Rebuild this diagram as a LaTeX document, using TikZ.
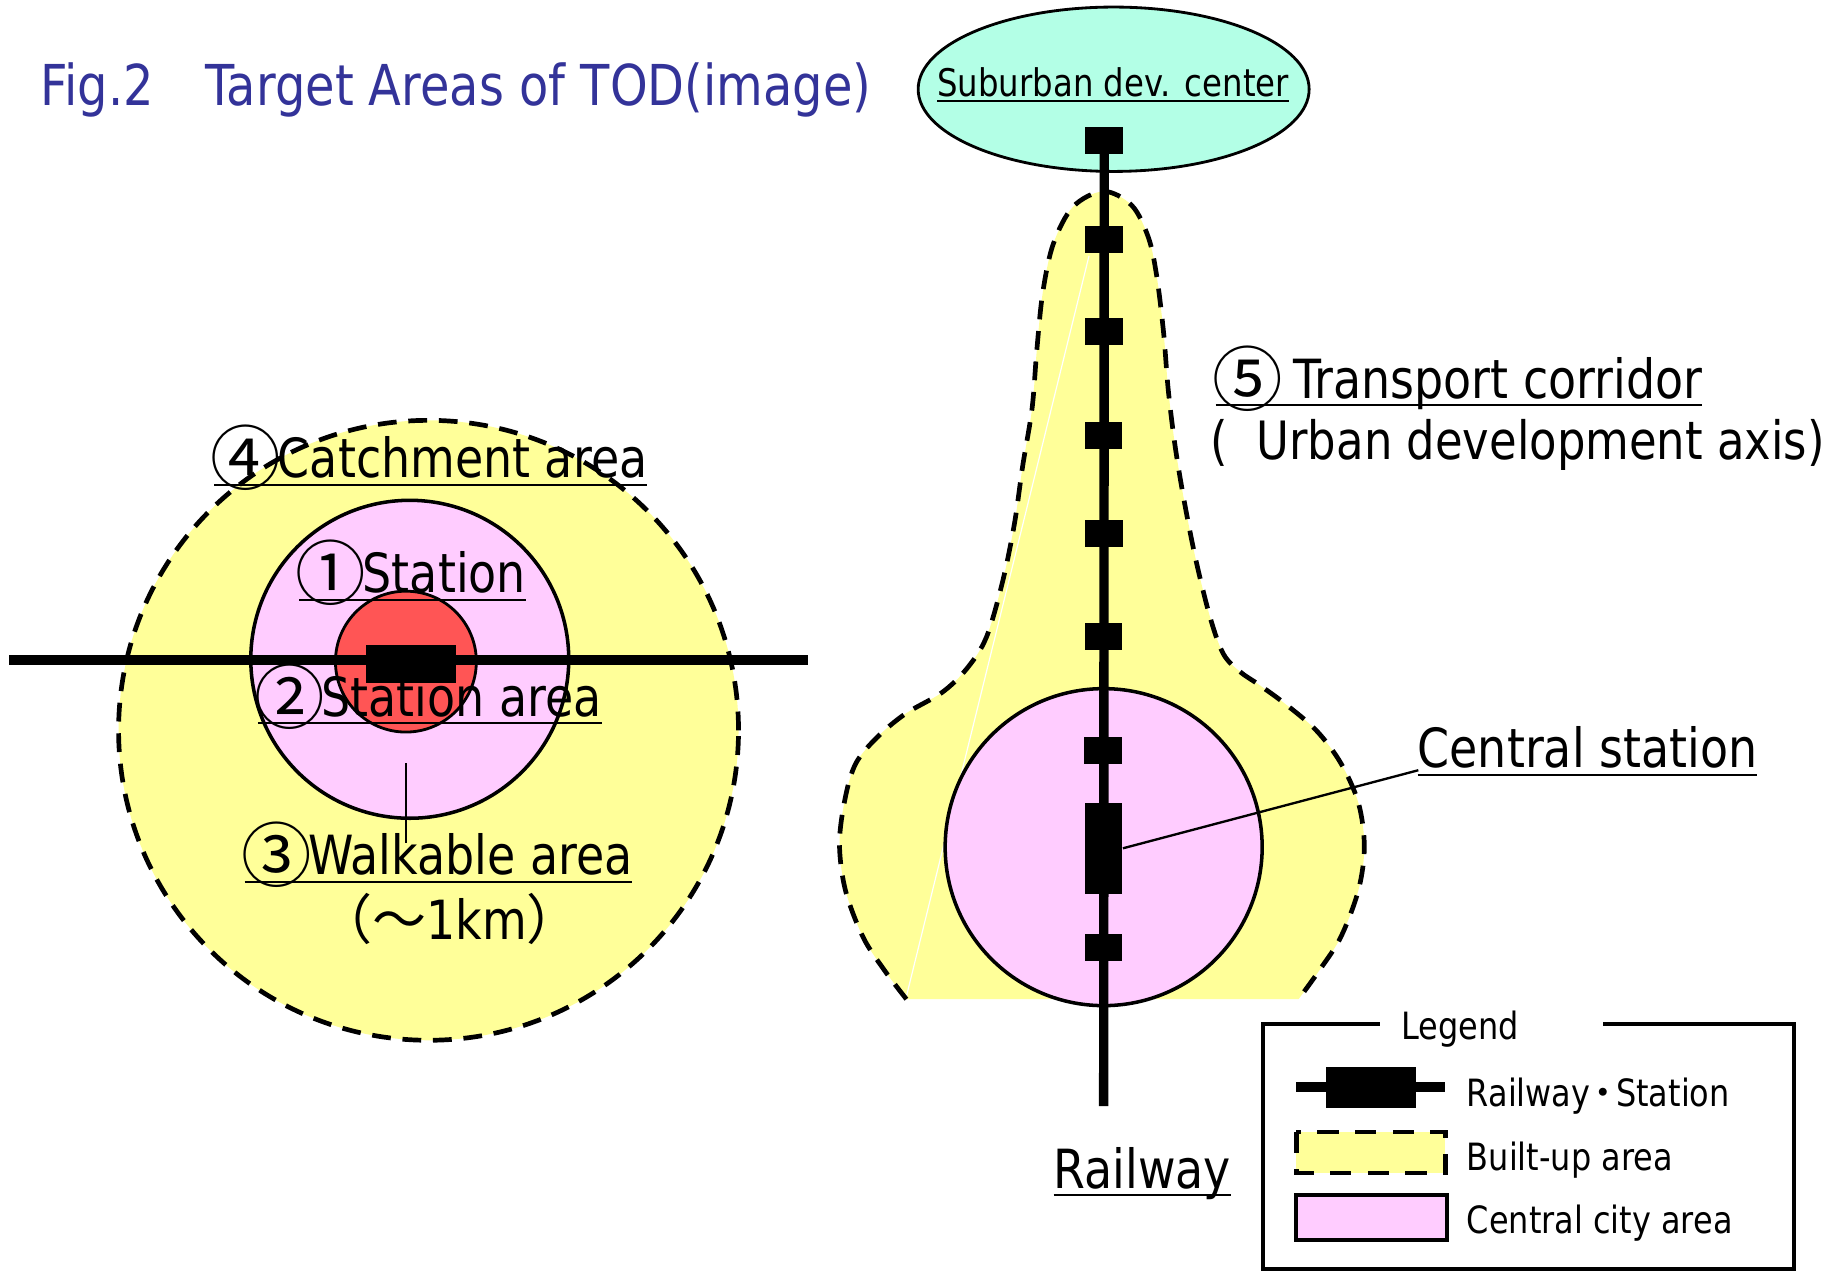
\documentclass[tikz,border=0pt]{standalone}
\usepackage{fontspec}
\setmainfont{DejaVu Sans}[FakeStretch=0.85]
\newfontfamily\cjk{Noto Sans CJK JP}
\definecolor{builtup}{RGB}{255,255,153}
\definecolor{citypink}{RGB}{255,204,255}
\definecolor{stnred}{RGB}{255,85,85}
\definecolor{subcyan}{RGB}{179,255,230}
\definecolor{titleblue}{RGB}{51,51,153}
% underlined text: optional depth of the rule below the baseline, then the text
\newcommand\ulx[2][3.5pt]{\setbox0=\hbox{#2}\rlap{\rule[-#1]{\wd0}{1pt}}\box0}
% enclosed digit, set a little larger, lowered and tightly spaced
\newcommand\cnum[1]{\kern-1.5pt\raisebox{-3pt}{\cjk\fontsize{30}{30}\selectfont #1}\kern-1.5pt}
\tikzset{
  lbl/.style={font=\fontsize{23}{27}\selectfont, inner sep=0pt, anchor=base},
  lgd/.style={font=\fontsize{16}{19}\selectfont, inner sep=0pt, anchor=base west},
  stn/.style={rectangle, fill=black, inner sep=0pt, minimum width=16pt, minimum height=11.5pt},
  rail/.style={line width=4pt},
  areaedge/.style={line width=2pt, dash pattern=on 8pt off 5pt},
  cityedge/.style={line width=1.5pt},
  pointer/.style={line width=1pt},
}
\begin{document}
\begin{tikzpicture}[x=0.5pt,y=-0.5pt]
\useasboundingbox (0,0) rectangle (1568,1083);

% ---------- title ----------
\node[font=\fontsize{24}{28}\selectfont, text=titleblue, inner sep=0pt, anchor=base west]
  (title) at (34,90) {Fig.2\hspace{22pt}Target Areas of TOD(image)};

% ---------- single station: concentric areas ----------
\fill[builtup] (365,622) circle[radius=132pt];
\draw[areaedge] (365,622) circle[radius=132pt];
\filldraw[fill=citypink, cityedge] (349,561.5) circle[radius=67.7pt];
\filldraw[fill=stnred, line width=1.2pt] (345.7,563.5) circle[radius=30pt];
\coordinate (hw) at (8,562);
\coordinate (he) at (688,562);
\draw[rail] (hw) -- (he);
\node[stn, minimum width=38.5pt, minimum height=16pt] (hst) at (350.3,565.4) {};

\node[lbl] (catch) at (367,407) {\ulx{\cnum{④}Catchment area}};
\node[lbl] (stat) at (351.5,505) {\ulx{\cnum{①}Station}};
\node[lbl] (starea) at (366,610) {\ulx{\cnum{②}Station area}};
\node[lbl] (walk) at (373.5,745) {\ulx{\cnum{③}Walkable area}};
\node[lbl] (km) at (383,800) {{\cjk （～}1km{\cjk ）}};
\coordinate (walktop) at (346,650);
\coordinate (walkbot) at (346,718);
\draw[line width=0.8pt] (walktop) -- (walkbot);

% ---------- corridor: built-up area along the railway ----------
\def\bulb{(772,851) (753,826) (735,798) (720,758) (715,718) (720,679) (729,650)
  (747,628) (771,608) (802,590) (823,570) (840,543) (854,495) (864,446)
  (871,397) (879,348) (883,299) (888,250) (897,208) (914,176) (940,163)
  (964,175) (978,202) (985,234) (991,283) (995,332) (1001,381) (1009,429)
  (1019,479) (1031,527) (1042,557) (1056,572) (1072,583) (1094,599)
  (1121,622) (1142,650) (1157,684) (1162,721) (1157,758) (1142,798)
  (1124,826) (1106,851)}
\fill[builtup] plot[smooth, tension=0.55] coordinates {\bulb} -- cycle;
\coordinate (wa) at (927.5,218);
\coordinate (wb) at (771.4,851);
\draw[white, line width=0.5pt] (wa) -- (wb);
\draw[areaedge] plot[smooth, tension=0.55] coordinates {\bulb};

\filldraw[fill=citypink, cityedge] (940,721.5) circle[radius=67.5pt];

% suburban centre
\filldraw[fill=subcyan, line width=1.2pt] (948.5,76) ellipse[x radius=83.25pt, y radius=35pt];
\node[font=\fontsize{16.2}{19}\selectfont, inner sep=0pt, anchor=base]
  (subtxt) at (948,82) {\ulx[2.4pt]{Suburban dev. center}};

% railway and stations
\node[stn] (s0) at (940.5,120) {};
\coordinate (railend) at (940,942);
\draw[rail] (s0.center) -- (railend);
\node[stn] (s1) at (940.5,203.6) {};
\node[stn] (s2) at (940.5,282) {};
\node[stn] (s3) at (940,371) {};
\node[stn] (s4) at (940.5,454) {};
\node[stn] (s5) at (940,542) {};
\node[stn] (s6) at (939.5,639.5) {};
\node[stn, minimum height=38.5pt] (cst) at (940,722.5) {};
\node[stn] (s7) at (940,807) {};

% labels on the right
\node[lbl, anchor=base west] (corr) at (1035,339) {\ulx{\cnum{⑤}\hspace{6pt}Transport corridor}};
\node[lbl, font=\fontsize{22.5}{27}\selectfont, anchor=base west] (axis) at (1031,391)
  {(\hspace{12pt}Urban development axis)};
\node[lbl, anchor=base west] (centlbl) at (1207,654) {\ulx{Central station}};
\coordinate (centtip) at (1208,656);
\draw[pointer] (cst.east) -- (centtip);
\node[lbl, anchor=base west] (raillbl) at (897,1012) {\ulx{Railway}};

% ---------- legend ----------
\coordinate (lgA) at (1076,1081);
\coordinate (lgB) at (1076,872);
\coordinate (lgC) at (1175,872);
\coordinate (lgD) at (1365,872);
\coordinate (lgE) at (1528,872);
\coordinate (lgF) at (1528,1081);
\draw[line width=1.6pt] (lgC) -- (lgB) -- (lgA) -- (lgF) -- (lgE) -- (lgD);
\node[lgd, anchor=base] (lgtitle) at (1243.5,885) {Legend};

\coordinate (lr1) at (1104,926);
\coordinate (lr2) at (1231,926);
\draw[line width=4.25pt] (lr1) -- (lr2);
\node[stn, minimum width=38.5pt, minimum height=17.5pt] (lgst) at (1167.5,926) {};
\fill[builtup] (1104,964) rectangle (1231,999);
\draw[line width=2pt, dash pattern=on 9pt off 7pt] (1104,964) rectangle (1231,999);
\filldraw[fill=citypink, line width=1.7pt] (1104,1018) rectangle (1232,1056);

\node[lgd] (lg1) at (1249,942) {Railway\kern-2.5pt{\cjk ・}\kern-2.5pt Station};
\node[lgd] (lg2) at (1249,996.5) {Built-up area};
\node[lgd] (lg3) at (1249,1050.5) {Central city area};
\end{tikzpicture}
\end{document}
